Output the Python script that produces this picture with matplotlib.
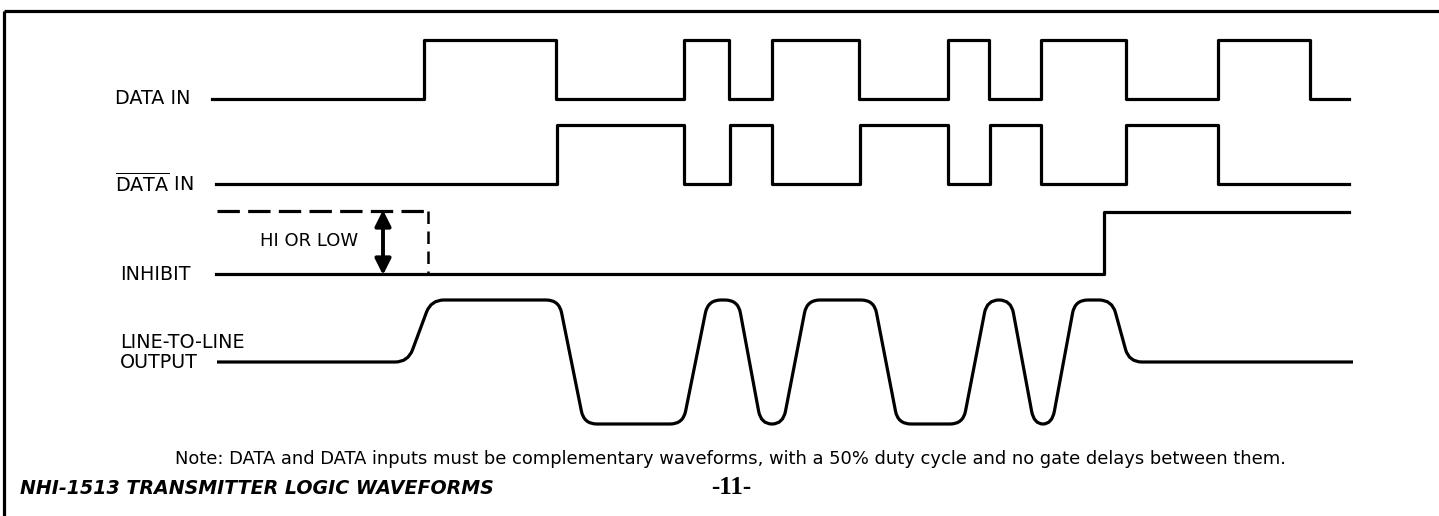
import numpy as np
import matplotlib
matplotlib.use('Agg')
import matplotlib.pyplot as plt
from matplotlib.path import Path
from matplotlib.patches import PathPatch

plt.rcParams['font.family'] = ['DejaVu Sans']
plt.rcParams['mathtext.fontset'] = 'dejavusans'

# time axis is in picture pixels, levels are logic states
t_start = 212
t_end = 1349

data_in_edges = [424, 556, 684, 729, 772, 859, 948, 989, 1041, 1126, 1218, 1310]
data_bar_edges = [557, 684, 730, 772, 860, 948, 990, 1041, 1126, 1218]
inhibit_edges = [1104]

# line-to-line output: knots (time, level) with level -1 / 0 / +1
out_t = [217, 408, 431, 559, 584, 683, 708, 738, 761, 783, 807,
         874, 898, 963, 987, 1011, 1034, 1052, 1075, 1112, 1129, 1353]
out_level = [0, 0, 1, 1, -1, -1, 1, 1, -1, -1, 1,
             1, -1, -1, 1, 1, -1, -1, 1, 1, 0, 0]

labels = ['DATA IN', r'$\overline{\mathrm{DATA}}$ IN', 'INHIBIT']
note = ('Note: DATA and DATA inputs must be complementary waveforms, '
        'with a 50% duty cycle and no gate delays between them.')
title = 'NHI-1513 TRANSMITTER LOGIC WAVEFORMS'
page = '-11-'

# row layout (baseline y, height of a logic 1)
rows = {'data': (99, 59), 'bar': (184, 59), 'inh': (274, 62), 'out': (362, 62)}
lw = 2.3


def step_xy(edges, t0, t1):
    x = [t0] + edges + [t1]
    lev = [(i % 2) for i in range(len(edges) + 1)]
    lev = lev + [lev[-1]]
    return np.array(x), np.array(lev)


def rounded_path(xs, ys, r):
    pts = np.column_stack([xs, ys]).astype(float)
    verts = [pts[0]]
    codes = [Path.MOVETO]
    for i in range(1, len(pts) - 1):
        a, p, b = pts[i - 1], pts[i], pts[i + 1]
        da = np.hypot(*(a - p))
        db = np.hypot(*(b - p))
        ra = min(r, da / 2)
        rb = min(r, db / 2)
        p1 = p + (a - p) / da * ra
        p2 = p + (b - p) / db * rb
        verts += [p1, p, p2]
        codes += [Path.LINETO, Path.CURVE3, Path.CURVE3]
    verts.append(pts[-1])
    codes.append(Path.LINETO)
    return Path(verts, codes)


fig = plt.figure(figsize=(14.39, 5.16), dpi=100)
ax = fig.add_axes([0, 0, 1, 1])
ax.set_xlim(0, 1439)
ax.set_ylim(516, 0)
ax.axis('off')

# frame (top and left only)
ax.plot([3.5, 1439], [10.5, 10.5], color='black', lw=2.3, solid_capstyle='butt')
ax.plot([3.5, 3.5], [10.5, 516], color='black', lw=2.3, solid_capstyle='butt')

for key, edges, t0 in [('data', data_in_edges, t_start),
                       ('bar', data_bar_edges, 216),
                       ('inh', inhibit_edges, 216)]:
    base, amp = rows[key]
    x, lev = step_xy(edges, t0, t_end)
    ax.step(x, base - lev * amp, where='post', color='black', lw=lw)

# output waveform with rounded corners
base, amp = rows['out']
path = rounded_path(out_t, base - np.array(out_level) * amp, 13)
ax.add_patch(PathPatch(path, fill=False, edgecolor='black', lw=lw,
                       joinstyle='round', capstyle='butt'))

# "hi or low" dashed box and double arrow on inhibit row
base, amp = rows['inh']
hi = base - amp - 1
ax.plot([217, 428], [hi, hi], color='black', lw=lw, linestyle=(0, (7, 2.6)))
ax.plot([428, 428], [hi, base], color='black', lw=1.8, linestyle=(0, (5, 3)))
ax.annotate('', xy=(383, hi - 1), xytext=(383, base + 1),
            arrowprops=dict(arrowstyle='<|-|>', color='black', lw=2.8,
                            mutation_scale=24, shrinkA=0, shrinkB=0))
ax.text(260, (hi + base) / 2 - 1, 'HI OR LOW', fontsize=13, va='center', ha='left')

# row labels
fs = 13.8
ax.text(115, rows['data'][0], labels[0], fontsize=fs, va='center', ha='left')
ax.text(115, rows['bar'][0], labels[1], fontsize=fs, va='center', ha='left')
ax.text(120, rows['inh'][0], labels[2], fontsize=fs, va='center', ha='left')
ax.text(120, 343, 'LINE-TO-LINE', fontsize=fs, va='center', ha='left')
ax.text(120, 363, 'OUTPUT', fontsize=fs, va='center', ha='left')

ax.text(730, 459, note, fontsize=12.9, va='center', ha='center')
ax.text(20, 489, title, fontsize=13.7, fontweight='bold', style='italic',
        va='center', ha='left')
ax.text(731, 488, page, fontsize=18, fontweight='bold', family='Liberation Serif',
        va='center', ha='center')

fig.savefig('out.png', dpi=100)
